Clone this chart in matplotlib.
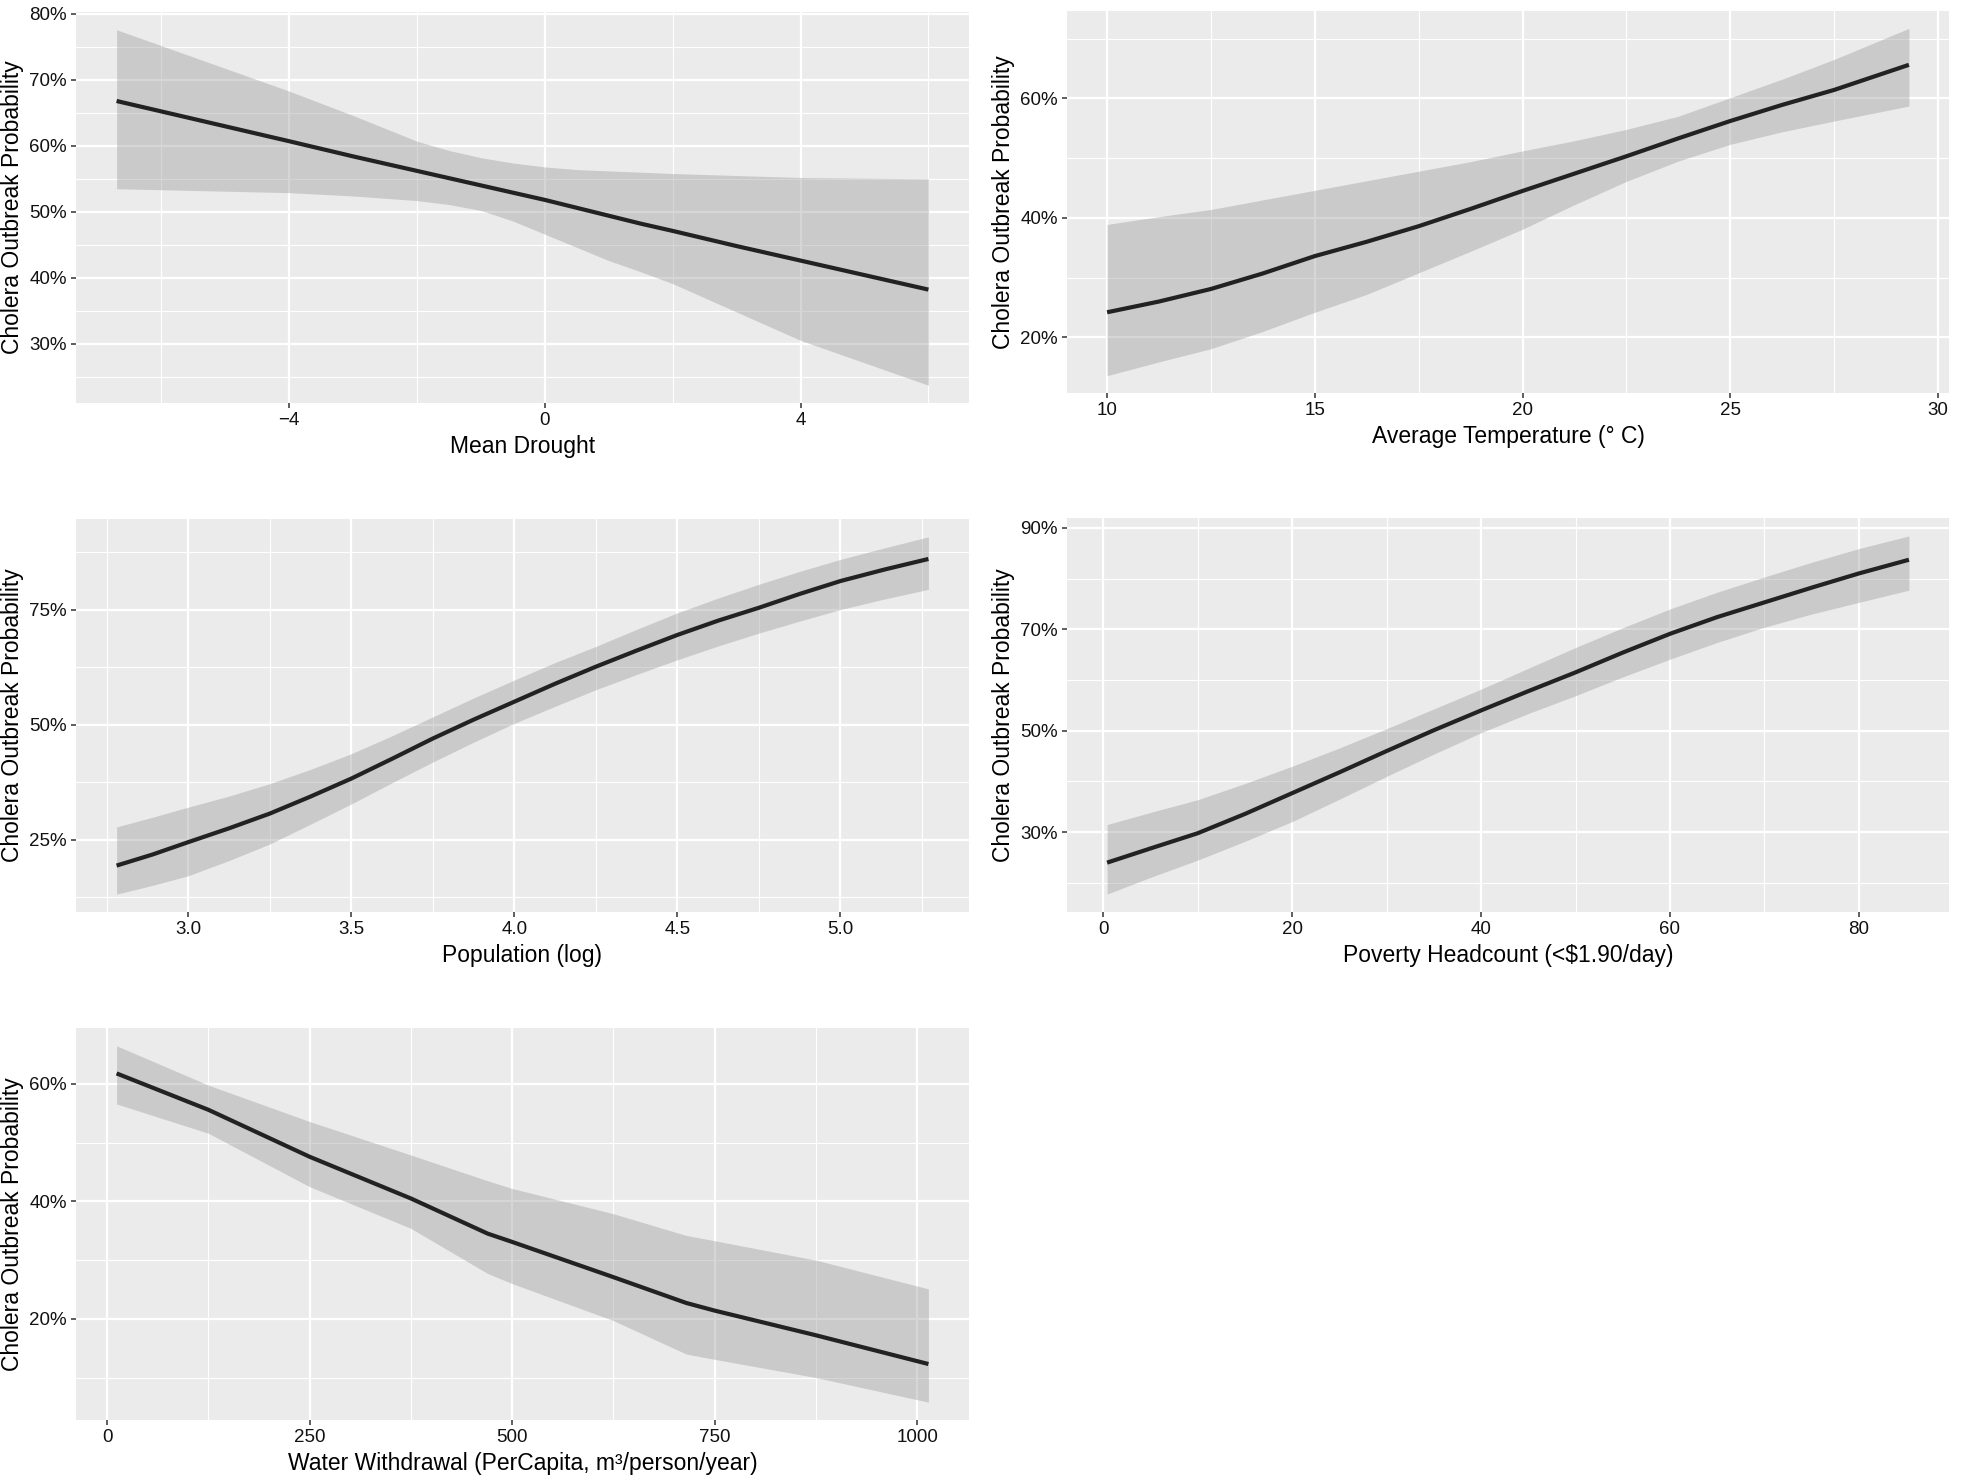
import matplotlib
matplotlib.use("Agg")
import matplotlib.pyplot as plt
import numpy as np

plt.rcParams['font.family'] = ['Liberation Sans', 'DejaVu Sans']

# values (percent)
drought_x = [-6.7, -4, -3, -2, -1.5, -1, -0.5, 0, 0.5, 1, 1.5, 2, 3, 4, 6]
drought_fit = [66.8, 60.7, 58.4, 56.2, 55.1, 54.0, 52.9, 51.8, 50.6, 49.4, 48.2, 47.1, 44.8, 42.6, 38.2]
drought_hi = [77.6, 68.3, 64.6, 60.7, 59.3, 58.2, 57.4, 56.8, 56.4, 56.2, 56.0, 55.8, 55.5, 55.2, 55.0]
drought_lo = [53.5, 52.9, 52.4, 51.7, 51.1, 50.2, 48.6, 46.6, 44.6, 42.6, 40.9, 39.1, 34.8, 30.5, 23.7]

temp_x = [10, 11.25, 12.5, 13.75, 15, 16.25, 17.5, 18.75, 20, 21.25, 22.5, 23.75, 25, 26.25, 27.5, 29.3]
temp_fit = [24.2, 26.0, 28.1, 30.7, 33.6, 36.0, 38.6, 41.5, 44.5, 47.4, 50.3, 53.3, 56.2, 58.9, 61.4, 65.6]
temp_hi = [38.9, 40.2, 41.4, 43.0, 44.6, 46.2, 47.8, 49.4, 51.2, 52.9, 54.8, 57.0, 60.1, 63.2, 66.5, 71.7]
temp_lo = [13.6, 15.9, 18.1, 21.0, 24.2, 27.2, 30.8, 34.4, 38.1, 42.2, 46.1, 49.5, 52.3, 54.4, 56.2, 58.7]

pop_x = [2.78, 2.89, 3.0, 3.125, 3.25, 3.375, 3.5, 3.625, 3.75, 3.875, 4.0,
         4.125, 4.25, 4.375, 4.5, 4.625, 4.75, 4.875, 5.0, 5.135, 5.27]
pop_fit = [19.4, 21.8, 24.5, 27.5, 30.7, 34.4, 38.3, 42.6, 47.0, 51.1, 55.0,
           58.9, 62.6, 66.1, 69.5, 72.6, 75.4, 78.4, 81.2, 83.7, 86.0]
pop_hi = [27.8, 29.9, 32.1, 34.5, 37.2, 40.3, 43.7, 47.6, 51.7, 55.8, 59.7,
          63.5, 67.0, 70.7, 74.3, 77.5, 80.5, 83.3, 85.9, 88.4, 90.8]
pop_lo = [13.2, 15.1, 17.2, 20.5, 24.1, 28.4, 32.8, 37.4, 41.9, 46.2, 50.3,
          54.0, 57.6, 60.9, 64.1, 67.1, 69.9, 72.5, 75.0, 77.3, 79.4]

pov_x = [0.4, 5, 10, 15, 20, 25, 30, 35, 40, 45, 50, 55, 60, 65, 70, 75, 80, 85.3]
pov_fit = [24.0, 26.8, 29.8, 33.6, 37.7, 41.8, 46.0, 50.1, 54.0, 57.8, 61.5, 65.4, 69.1, 72.4, 75.3, 78.2, 81.0, 83.7]
pov_hi = [31.5, 33.9, 36.4, 39.6, 43.0, 46.6, 50.4, 54.3, 58.2, 62.3, 66.4, 70.3, 74.0, 77.3, 80.3, 83.2, 85.9, 88.4]
pov_lo = [17.8, 21.1, 24.5, 28.2, 32.1, 36.5, 41.0, 45.4, 49.6, 53.4, 56.9, 60.6, 64.1, 67.4, 70.4, 73.0, 75.3, 77.7]

water_x = [11.6, 125, 250, 375, 470, 500, 625, 715, 750, 875, 1014]
water_fit = [61.8, 55.6, 47.6, 40.5, 34.5, 33.1, 27.1, 22.7, 21.4, 17.2, 12.3]
water_hi = [66.5, 59.8, 53.6, 47.9, 43.5, 42.2, 37.9, 34.2, 33.3, 30.0, 25.1]
water_lo = [56.6, 51.6, 42.5, 35.4, 27.7, 26.0, 19.7, 14.0, 13.1, 10.0, 5.8]

ylab = 'Cholera Outbreak Probability'

panels = [
    # (x, fit, lo, hi, xlabel, xmajor, xminor, ymajor, yminor, xfmt, rect in px)
    (drought_x, drought_fit, drought_lo, drought_hi, 'Mean Drought',
     [-4, 0, 4], [-6, -2, 2, 6], [30, 40, 50, 60, 70, 80], [25, 35, 45, 55, 65, 75],
     '{:.0f}', [76, 12, 969, 403]),
    (temp_x, temp_fit, temp_lo, temp_hi, 'Average Temperature (° C)',
     [10, 15, 20, 25, 30], [12.5, 17.5, 22.5, 27.5], [20, 40, 60], [30, 50, 70],
     '{:.0f}', [1067, 11, 1949, 393]),
    (pop_x, pop_fit, pop_lo, pop_hi, 'Population (log)',
     [3.0, 3.5, 4.0, 4.5, 5.0], [2.75, 3.25, 3.75, 4.25, 4.75, 5.25], [25, 50, 75], [12.5, 37.5, 62.5, 87.5],
     '{:.1f}', [76, 519, 969, 912]),
    (pov_x, pov_fit, pov_lo, pov_hi, 'Poverty Headcount (<$1.90/day)',
     [0, 20, 40, 60, 80], [10, 30, 50, 70], [30, 50, 70, 90], [20, 40, 60, 80],
     '{:.0f}', [1067, 518, 1949, 912]),
    (water_x, water_fit, water_lo, water_hi, 'Water Withdrawal (PerCapita, m³/person/year)',
     [0, 250, 500, 750, 1000], [125, 375, 625, 875], [20, 40, 60], [10, 30, 50],
     '{:.0f}', [76, 1028, 969, 1420]),
]

W, H = 1968, 1476
fig = plt.figure(figsize=(W / 100, H / 100), dpi=100)

for x, fit, lo, hi, xlabel, xmaj, xmin, ymaj, ymin, xfmt, rect in panels:
    x0, y0, x1, y1 = rect
    ax = fig.add_axes([x0 / W, 1 - y1 / H, (x1 - x0) / W, (y1 - y0) / H])
    ax.set_facecolor('#EBEBEB')
    ax.fill_between(x, lo, hi, color='#999999', alpha=0.4, linewidth=0, zorder=2)
    ax.plot(x, fit, color='#222222', linewidth=3.0, solid_capstyle='butt',
            solid_joinstyle='round', zorder=3)
    ax.margins(x=0.05, y=0.05)

    ax.set_xticks(xmaj)
    ax.set_xticks(xmin, minor=True)
    ax.set_yticks(ymaj)
    ax.set_yticks(ymin, minor=True)
    ax.set_xticklabels([xfmt.format(v).replace('-', '\u2212') for v in xmaj])
    ax.set_yticklabels(['{:.0f}%'.format(v) for v in ymaj])

    ax.grid(which='major', color='white', linewidth=1.6, zorder=1)
    ax.grid(which='minor', color='white', linewidth=0.8, zorder=1)
    ax.set_axisbelow(True)
    for s in ax.spines.values():
        s.set_visible(False)
    ax.tick_params(which='major', length=3.6, width=1.1, color='#333333',
                   labelsize=13.5, labelcolor='#111111', pad=3)
    ax.tick_params(which='minor', length=0)

    ax.set_xlabel(xlabel, fontsize=16.5, color='black', labelpad=4)
    ax.set_ylabel(ylab, fontsize=16.5, color='black', labelpad=4)

fig.savefig('out.png', dpi=100)
